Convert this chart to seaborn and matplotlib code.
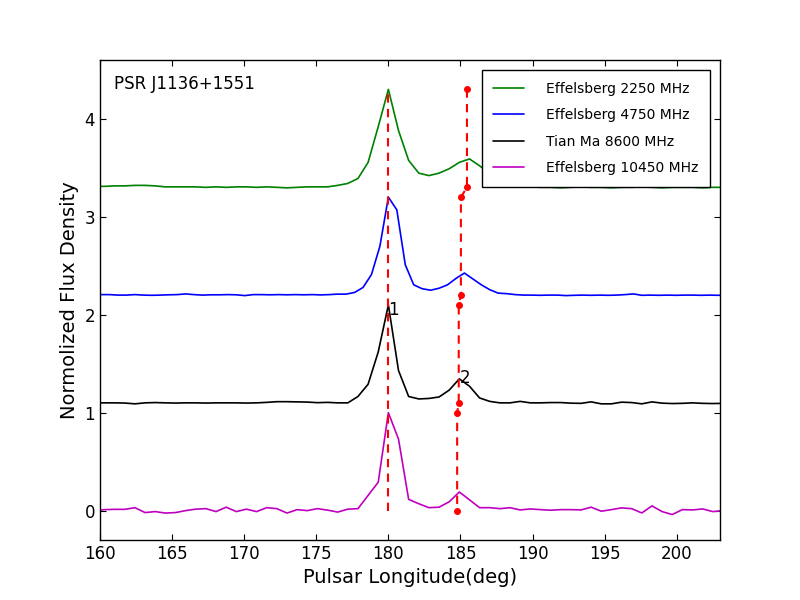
import numpy as np
import matplotlib
matplotlib.use('Agg')
import matplotlib.pyplot as plt
import seaborn as sns

# phase bins (512 per turn) for Effelsberg 2250, Tian Ma 8600, Effelsberg 10450
lon_bins = np.arange(227, 290) * 360.0 / 512
# Effelsberg 4750 has a finer bin size
lon_4750 = 180.0 + np.arange(-35, 41) * 0.586

flux_2250 = [3.31, 3.31, 3.315, 3.315, 3.32, 3.32, 3.315, 3.305, 3.305, 3.305, 3.305, 3.30,
             3.305, 3.30, 3.305, 3.305, 3.30, 3.305, 3.30, 3.295, 3.30, 3.305, 3.305, 3.305,
             3.32, 3.34, 3.39, 3.555, 3.92, 4.30, 3.88, 3.575, 3.445, 3.42, 3.445, 3.49,
             3.555, 3.59, 3.52, 3.44, 3.37, 3.335, 3.315, 3.305,
             3.30, 3.30, 3.295, 3.30, 3.305, 3.30, 3.30, 3.295, 3.30, 3.30, 3.305, 3.30,
             3.295, 3.30, 3.30, 3.30, 3.295, 3.30, 3.30]

flux_4750 = [2.205, 2.205, 2.205, 2.20, 2.20, 2.205, 2.20, 2.198, 2.20, 2.203, 2.205, 2.212,
             2.205, 2.20, 2.203, 2.203, 2.205, 2.203, 2.195, 2.205, 2.205, 2.203, 2.205, 2.203,
             2.205, 2.203, 2.205, 2.202, 2.205, 2.21,
             2.21, 2.227, 2.278, 2.41, 2.70, 3.20, 3.07, 2.51, 2.305, 2.265, 2.25, 2.27,
             2.305, 2.37, 2.425, 2.365, 2.305, 2.255, 2.22, 2.215,
             2.205, 2.20, 2.20, 2.198, 2.20, 2.20, 2.195, 2.198, 2.20, 2.198, 2.20, 2.198,
             2.20, 2.205, 2.212, 2.198, 2.20, 2.198, 2.20, 2.198, 2.20, 2.20, 2.198, 2.20,
             2.198, 2.20]

flux_8600 = [1.10, 1.10, 1.10, 1.098, 1.09, 1.10, 1.103, 1.10, 1.098, 1.10, 1.10, 1.098,
             1.10, 1.10, 1.10, 1.098, 1.10, 1.105, 1.112, 1.112, 1.11, 1.108, 1.102, 1.105,
             1.10, 1.10, 1.165, 1.29, 1.62, 2.10, 1.43, 1.165, 1.14, 1.145, 1.16, 1.23,
             1.345, 1.27, 1.15, 1.115, 1.10, 1.10, 1.115, 1.10, 1.10, 1.103, 1.103, 1.097,
             1.095, 1.11, 1.09, 1.09, 1.107, 1.103, 1.09, 1.11, 1.097, 1.093, 1.095, 1.10,
             1.095, 1.093, 1.095]

flux_10450 = [0.0, 0.01, 0.013, 0.013, 0.03, -0.02, -0.01, -0.025, -0.02, 0.0, 0.015, 0.02,
              -0.01, 0.035, -0.01, 0.015, -0.01, 0.03, 0.02, -0.025, 0.01, 0.0, 0.02, 0.005,
              -0.015, 0.015, 0.02,
              0.155, 0.29, 1.0, 0.73, 0.115, 0.07, 0.03, 0.035, 0.09, 0.19, 0.11, 0.03,
              0.03, 0.02, 0.03, 0.007, 0.017, 0.01, 0.004, 0.01, 0.01, 0.007, 0.035, -0.006,
              0.01, 0.028, 0.02, -0.024, 0.048, -0.01, -0.04, 0.01, 0.007, 0.017, -0.01, 0.0]

labels = ['Effelsberg 2250 MHz', 'Effelsberg 4750 MHz', 'Tian Ma 8600 MHz', 'Effelsberg 10450 MHz']
colors = ['g', 'b', 'k', 'm']

# component markers
comp1_lon = [180.0, 180.0]
comp1_y = [0.0, 4.3]
comp2_lon = [185.45, 185.45, 185.03, 185.03, 184.88, 184.88, 184.77, 184.77]
comp2_y = [4.3, 3.3, 3.2, 2.2, 2.1, 1.1, 1.0, 0.0]

sns.set_style('ticks', {'xtick.direction': 'in', 'ytick.direction': 'in',
                        'xtick.top': True, 'ytick.right': True,
                        'axes.edgecolor': 'black', 'text.color': 'black',
                        'axes.labelcolor': 'black', 'xtick.color': 'black',
                        'ytick.color': 'black'})
plt.rcParams['font.family'] = ['DejaVu Sans']
plt.rcParams['axes.linewidth'] = 1.0
plt.rcParams['xtick.major.size'] = 4
plt.rcParams['ytick.major.size'] = 4
plt.rcParams['xtick.labelsize'] = 12
plt.rcParams['ytick.labelsize'] = 12
plt.rcParams['lines.scale_dashes'] = False

fig = plt.figure(figsize=(8, 6), dpi=100)
ax = fig.add_axes([0.125, 0.1, 0.775, 0.8])

series = [(lon_bins, flux_2250), (lon_4750, flux_4750), (lon_bins, flux_8600), (lon_bins, flux_10450)]
for (x, y), lab, c in zip(series, labels, colors):
    sns.lineplot(x=x, y=y, color=c, lw=1.2, label=lab, ax=ax, estimator=None)

ax.plot(comp1_lon, comp1_y, color='r', ls='--', dashes=(6, 4.5), lw=1.5)
ax.plot(comp2_lon, comp2_y, color='r', ls='--', dashes=(6, 4.5), lw=1.5,
        marker='o', ms=4, mec='r', mfc='r')

ax.text(180.0, 2.0, '1', fontsize=12, color='black')
ax.text(184.95, 1.3, '2', fontsize=12, color='black')
ax.text(161, 4.3, 'PSR J1136+1551', fontsize=12, color='black')

ax.set_xlim(160, 203)
ax.set_ylim(-0.3, 4.6)
ax.set_xticks(np.arange(160, 201, 5))
ax.set_yticks([0, 1, 2, 3, 4])
ax.set_xlabel('Pulsar Longitude(deg)', fontsize=14, color='black')
ax.set_ylabel('Normolized Flux Density', fontsize=14, color='black')
ax.tick_params(colors='black')

leg = ax.legend(loc='upper right', fontsize=10, frameon=True, fancybox=False,
                edgecolor='black', framealpha=1, handlelength=2.2, handletextpad=1.6,
                labelspacing=0.9, borderpad=0.85, borderaxespad=0.7)
leg.get_frame().set_linewidth(1.0)
for t in leg.get_texts():
    t.set_color('black')

fig.savefig('out.png', dpi=100)
